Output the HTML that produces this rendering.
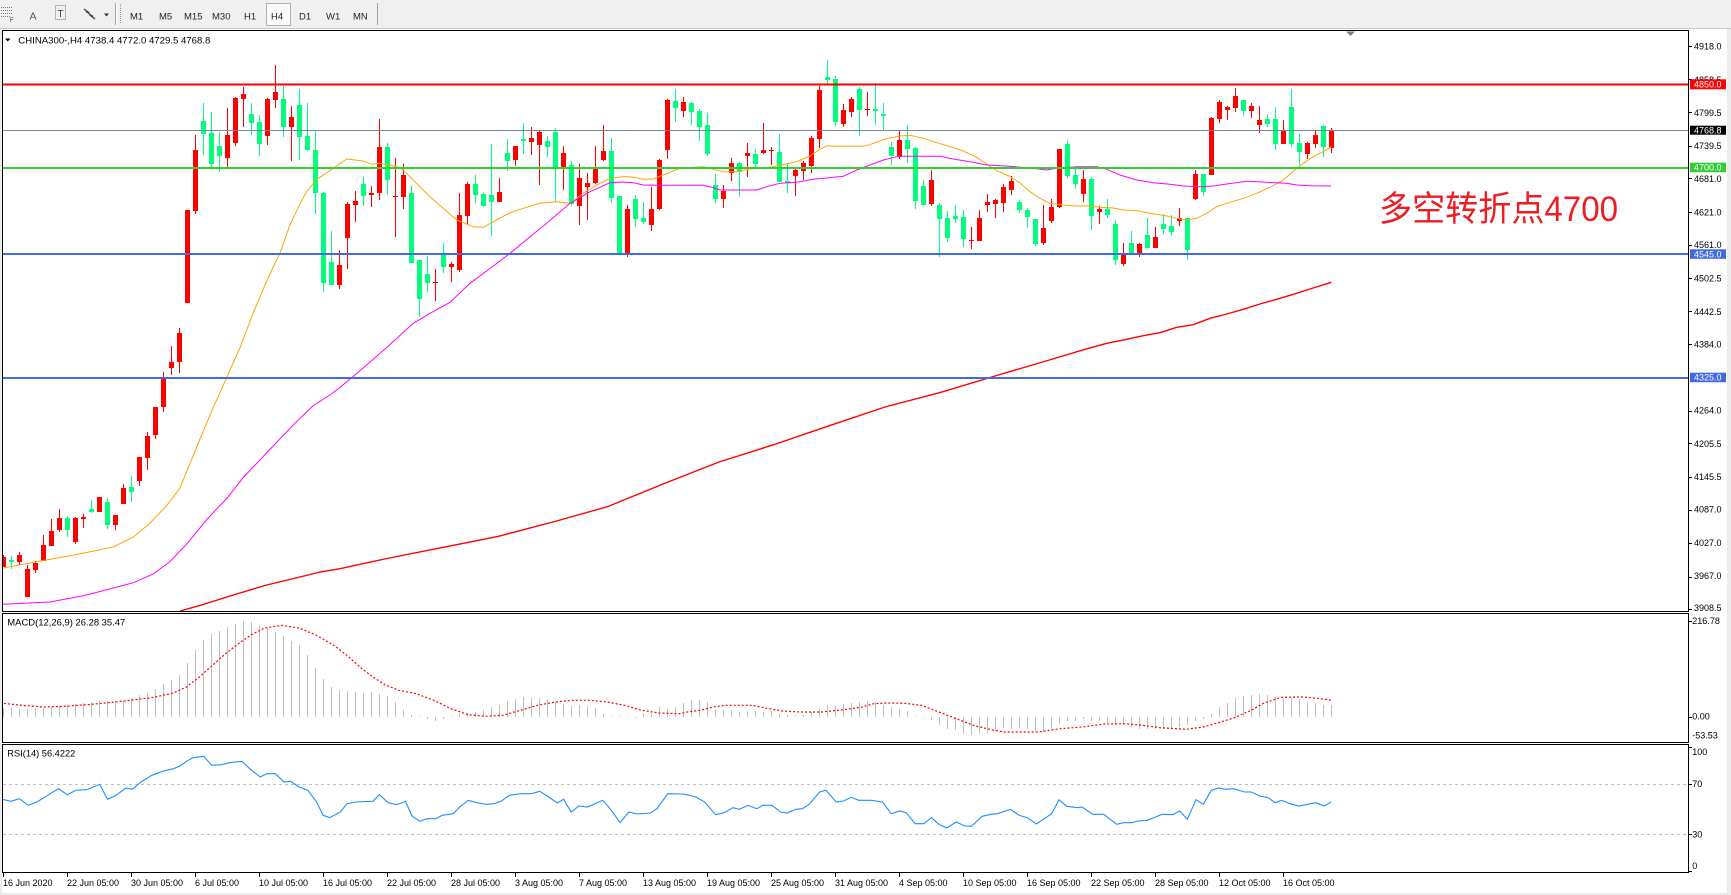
<!DOCTYPE html>
<html><head><meta charset="utf-8"><style>html,body{margin:0;padding:0;background:#fff;overflow:hidden}svg{display:block}</style></head><body>
<svg xmlns="http://www.w3.org/2000/svg" width="1731" height="895" viewBox="0 0 1731 895" font-family="'Liberation Sans', Arial, sans-serif">
<defs>
<clipPath id="cm"><rect x="3" y="31" width="1685" height="580"/></clipPath>
<clipPath id="cd"><rect x="3" y="614" width="1685" height="128"/></clipPath>
<clipPath id="cr"><rect x="3" y="745" width="1685" height="127"/></clipPath>
</defs>
<rect width="1731" height="895" fill="#fff"/>
<!-- toolbar -->
<rect x="0" y="0" width="1731" height="29" fill="#f0f0f0"/>
<line x1="0" y1="28.5" x2="1731" y2="28.5" stroke="#c8c8c8"/>
<g stroke="#777" stroke-dasharray="1,1"><line x1="1" y1="7.5" x2="13" y2="7.5"/><line x1="1" y1="10.5" x2="13" y2="10.5"/><line x1="1" y1="13.5" x2="13" y2="13.5"/><line x1="1" y1="16.5" x2="10" y2="16.5"/></g>
<text x="10" y="22" font-size="6" fill="#333">F</text>
<text x="29.5" y="19.3" font-size="10.5" fill="#555">A</text>
<rect x="55.5" y="5.5" width="10" height="14" fill="none" stroke="#777" stroke-dasharray="1,1"/>
<text x="57.5" y="17" font-size="10" fill="#444">T</text>
<path d="M84 9l4 3l-2 0M95 19l-4 -3l2 0M86 11l7 6" stroke="#444" fill="none" stroke-width="1.4"/>
<path d="M104 13.5h5l-2.5 3z" fill="#333"/>
<line x1="115.5" y1="3" x2="115.5" y2="25" stroke="#a0a0a0"/><line x1="116.5" y1="3" x2="116.5" y2="25" stroke="#fff"/>
<line x1="120.5" y1="4" x2="120.5" y2="24" stroke="#999" stroke-dasharray="1,1"/>
<rect x="266.5" y="3.5" width="24" height="22" fill="#fafafa" stroke="#b0b0b0"/>
<g font-size="9.5" fill="#222">
<text x="130" y="19.3">M1</text><text x="159" y="19.3">M5</text><text x="184" y="19.3">M15</text><text x="212" y="19.3">M30</text><text x="244" y="19.3">H1</text><text x="271" y="19.3">H4</text><text x="299" y="19.3">D1</text><text x="326" y="19.3">W1</text><text x="353" y="19.3">MN</text>
</g>
<line x1="377.5" y1="3" x2="377.5" y2="25" stroke="#a0a0a0"/>
<!-- right and bottom gray bands -->
<rect x="1727" y="29" width="4" height="866" fill="#ececec"/>
<rect x="0" y="893" width="1731" height="2" fill="#ececec"/>
<rect x="0" y="29" width="2" height="866" fill="#ececec"/>

<!-- MAIN PANEL -->
<g clip-path="url(#cm)">
<path fill="none" stroke="#ff0000" stroke-width="1" d="M3.5 555V567M19.5 552V565M27.5 565V597M35.5 561V573M43.5 535V561M51.5 519V546M59.5 509V532M75.5 517V544M83.5 514V528M99.5 497V512M115.5 515V530M123.5 484V504M139.5 457V486M147.5 432V470M155.5 407V439M163.5 372V412M171.5 346V375M179.5 328V373M187.5 210V303M195.5 135V214M227.5 108V167M235.5 97V146M243.5 87V127M267.5 98V145M275.5 65V108M291.5 106V161M339.5 250V289M347.5 202V269M355.5 191V222M371.5 186V207M379.5 119V200M395.5 158V237M403.5 164V209M435.5 269V301M451.5 262V282M459.5 193V272M467.5 182V224M499.5 178V202M515.5 146V166M531.5 127V155M539.5 131V185M563.5 146V190M579.5 164V225M587.5 173V220M595.5 146V184M603.5 125V161M627.5 205V257M651.5 187V231M659.5 159V210M667.5 99V159M683.5 97V117M723.5 185V208M731.5 158V181M747.5 143V177M763.5 123V154M771.5 147V165M795.5 169V196M803.5 161V180M811.5 136V173M819.5 86V148M843.5 104V127M851.5 97V117M867.5 92V116M899.5 131V159M931.5 170V206M971.5 227V249M979.5 210V241M987.5 194V212M995.5 199V218M1003.5 184V212M1011.5 176V195M1043.5 205V245M1051.5 199V223M1059.5 149V208M1083.5 170V202M1099.5 206V224M1123.5 243V266M1139.5 243V257M1155.5 227V248M1179.5 208V226M1195.5 170V200M1211.5 117V175M1219.5 100V123M1227.5 106V120M1235.5 88V112M1251.5 103V118M1259.5 106V133M1283.5 120V144M1307.5 142V159M1315.5 131V148M1331.5 128V153"/>
<path fill="#ff0000" d="M1 557h5v10h-5zM17 555h5v7h-5zM25 569h5v28h-5zM33 563h5v7h-5zM41 545h5v16h-5zM49 531h5v15h-5zM57 518h5v12h-5zM73 518h5v24h-5zM81 517h5v2h-5zM97 497h5v15h-5zM113 515h5v10h-5zM121 488h5v16h-5zM137 457h5v24h-5zM145 436h5v22h-5zM153 407h5v28h-5zM161 377h5v30h-5zM169 362h5v6h-5zM177 333h5v29h-5zM185 210h5v93h-5zM193 150h5v61h-5zM225 135h5v23h-5zM233 98h5v45h-5zM241 94h5v5h-5zM265 99h5v37h-5zM273 92h5v8h-5zM289 117h5v10h-5zM337 265h5v20h-5zM345 204h5v34h-5zM353 201h5v4h-5zM369 193h5v2h-5zM377 147h5v46h-5zM393 196h5v1h-5zM401 175h5v22h-5zM433 282h5v1h-5zM449 264h5v3h-5zM457 215h5v55h-5zM465 184h5v32h-5zM497 192h5v10h-5zM513 146h5v14h-5zM529 138h5v4h-5zM537 132h5v13h-5zM561 153h5v14h-5zM577 178h5v28h-5zM585 183h5v4h-5zM593 169h5v14h-5zM601 151h5v9h-5zM625 209h5v44h-5zM649 209h5v16h-5zM657 160h5v49h-5zM665 100h5v50h-5zM681 102h5v9h-5zM721 191h5v8h-5zM729 163h5v10h-5zM745 153h5v3h-5zM761 150h5v3h-5zM769 150h5v1h-5zM793 170h5v6h-5zM801 163h5v8h-5zM809 138h5v28h-5zM817 90h5v49h-5zM841 110h5v14h-5zM849 99h5v13h-5zM865 109h5v1h-5zM897 140h5v16h-5zM929 180h5v24h-5zM969 240h5v1h-5zM977 218h5v23h-5zM985 202h5v3h-5zM993 200h5v4h-5zM1001 187h5v16h-5zM1009 181h5v9h-5zM1041 228h5v15h-5zM1049 207h5v14h-5zM1057 149h5v58h-5zM1081 179h5v15h-5zM1097 209h5v3h-5zM1121 254h5v10h-5zM1137 244h5v9h-5zM1153 237h5v11h-5zM1177 218h5v3h-5zM1193 174h5v25h-5zM1209 118h5v57h-5zM1217 102h5v17h-5zM1225 107h5v3h-5zM1233 96h5v12h-5zM1249 106h5v5h-5zM1257 120h5v5h-5zM1281 131h5v13h-5zM1305 143h5v11h-5zM1313 135h5v9h-5zM1329 130h5v18h-5z"/>
<path fill="none" stroke="#00ff7f" stroke-width="1" d="M11.5 556V569M67.5 516V537M91.5 500V513M107.5 498V529M131.5 476V502M203.5 103V155M211.5 112V167M219.5 132V172M251.5 103V135M259.5 115V156M283.5 86V137M299.5 89V160M307.5 103V151M315.5 130V214M323.5 192V292M331.5 231V285M363.5 177V206M387.5 143V195M411.5 186V263M419.5 260V317M427.5 256V292M443.5 243V273M475.5 175V203M483.5 192V207M491.5 144V236M507.5 139V171M523.5 123V154M547.5 136V157M555.5 128V202M571.5 161V206M611.5 138V203M619.5 196V253M635.5 195V227M643.5 202V224M675.5 89V122M691.5 102V125M699.5 109V141M707.5 113V156M715.5 174V203M739.5 162V197M755.5 149V167M779.5 134V182M787.5 163V193M827.5 60V84M835.5 76V126M859.5 87V136M875.5 83V125M883.5 103V130M891.5 142V165M907.5 125V163M915.5 147V209M923.5 180V205M939.5 203V257M947.5 211V242M955.5 205V223M963.5 210V247M1019.5 200V213M1027.5 208V228M1035.5 219V246M1067.5 140V178M1075.5 169V189M1091.5 177V230M1107.5 199V218M1115.5 220V265M1131.5 231V254M1147.5 218V248M1163.5 214V234M1171.5 215V236M1187.5 218V260M1203.5 174V196M1243.5 100V116M1267.5 114V127M1275.5 107V150M1291.5 89V147M1299.5 134V165M1323.5 125V157"/>
<path fill="#00ff7f" d="M9 560h5v2h-5zM65 518h5v12h-5zM89 509h5v3h-5zM105 502h5v23h-5zM129 487h5v5h-5zM201 121h5v13h-5zM209 133h5v31h-5zM217 146h5v10h-5zM249 114h5v9h-5zM257 122h5v22h-5zM281 99h5v28h-5zM297 105h5v32h-5zM305 136h5v14h-5zM313 150h5v43h-5zM321 193h5v90h-5zM329 262h5v23h-5zM361 184h5v12h-5zM385 147h5v33h-5zM409 193h5v70h-5zM417 260h5v39h-5zM425 274h5v9h-5zM441 254h5v13h-5zM473 184h5v11h-5zM481 194h5v12h-5zM489 195h5v7h-5zM505 153h5v8h-5zM521 139h5v2h-5zM545 141h5v6h-5zM553 132h5v36h-5zM569 165h5v39h-5zM609 151h5v47h-5zM617 196h5v57h-5zM633 199h5v20h-5zM641 218h5v4h-5zM673 101h5v7h-5zM689 103h5v9h-5zM697 111h5v16h-5zM705 125h5v29h-5zM713 185h5v14h-5zM737 163h5v9h-5zM753 154h5v10h-5zM777 152h5v30h-5zM785 181h5v2h-5zM825 77h5v3h-5zM833 79h5v43h-5zM857 89h5v21h-5zM873 109h5v2h-5zM881 114h5v2h-5zM889 147h5v9h-5zM905 140h5v9h-5zM913 148h5v53h-5zM921 186h5v19h-5zM937 205h5v14h-5zM945 218h5v20h-5zM953 216h5v3h-5zM961 217h5v22h-5zM1017 202h5v8h-5zM1025 210h5v7h-5zM1033 219h5v25h-5zM1065 144h5v32h-5zM1073 175h5v9h-5zM1089 179h5v37h-5zM1105 209h5v6h-5zM1113 224h5v36h-5zM1129 243h5v10h-5zM1145 235h5v13h-5zM1161 224h5v5h-5zM1169 226h5v6h-5zM1185 218h5v32h-5zM1201 174h5v18h-5zM1241 100h5v11h-5zM1265 119h5v5h-5zM1273 119h5v25h-5zM1289 107h5v37h-5zM1297 143h5v9h-5zM1321 126h5v21h-5z"/>
<!-- MA lines -->
<polyline fill="none" stroke="#ffa500" stroke-width="1" points="0,568.7 33.3,562.3 66.7,556.4 93.3,551.1 113.3,546.9 133.3,537.1 150,523.1 166.7,505.5 180,488 190,463.4 200,438.9 213.3,407.3 226.7,377.5 240,347.7 253.3,312.6 266.7,281 280,252.9 290,224.9 300,203.8 306.7,191.6 316.7,179.3 330,170.6 346.7,159 363.3,161 371.7,164.3 380,163.3 396.7,166.7 403.3,170 430,196.7 456.7,220 473.3,226.7 483.3,227.3 493.3,221.7 510,212.7 523.3,208.3 540,203.3 556.7,201.7 570,203.3 583.3,193.3 596.7,185 610,178.3 623.3,176.7 630,176.7 643.3,179.3 653.3,179 663.3,175 680,168.3 703.3,166.7 713.3,169.3 723.3,171.7 736.7,171.7 750,169 763.3,168.3 776.7,166 786.7,164 796.7,161.7 810,156 820,149.3 826.7,145.7 833.3,146.3 863.3,146.3 870,144.7 876.7,142 886.7,138.7 900,136 910,135.3 923.3,138.3 936.7,142.7 953.3,147.7 963.3,151 976.7,157.3 986.7,164 996.7,170.7 1010,176.5 1020,183 1030,191.7 1040,198.3 1050,203.3 1063.3,205 1076.7,206 1090,206 1100,207.3 1113.3,208 1123.3,210 1136.7,210.7 1150,213.3 1166.7,216 1176.7,218.3 1186.7,220 1196.7,218.3 1206.7,213.3 1216.7,206.7 1226.7,203.3 1243.3,198.3 1256.7,193.3 1270,187.3 1283.3,180 1296.7,168.3 1303.3,163.3 1313.3,156.7 1323.3,151.7 1331.3,146.7"/>
<polyline fill="none" stroke="#ff00ff" stroke-width="1" points="0,604.4 50,602 83.3,595.7 100,591.5 133.3,582.7 153.3,573.9 170,561.6 186.7,544.1 206.7,519.5 226.7,498.5 243.3,477.5 253.3,466.9 273.3,445.9 293.3,424.8 313.3,405.5 330,395 340,387.3 355,375 370,362 385,349 413.3,323.3 430,313.3 450,302.3 470,283.3 493.3,266 510,253.3 530,236.7 546.7,223.3 570,203.3 590,191.7 610,182.7 623.3,182 633.3,182.7 643.3,185 656.7,185.3 703.3,185.3 710,186.7 720,190 756.7,190 766.7,186.7 780,183.3 796.7,182.3 813.3,179.3 826.7,178 843.3,176.3 856.7,170 870,165 883.3,160 896.7,156.7 903.3,156.3 940,156.3 953.3,159 970,161.7 986.7,165 1010,166.3 1036.7,168.7 1046.7,170 1056.7,168.3 1076.7,166.7 1096.7,166.7 1106.7,169.3 1120,175 1136.7,180 1153.3,182.7 1170,184.3 1183.3,186 1200,186.7 1213.3,186 1226.7,184 1246.7,181.3 1266.7,182.3 1286.7,183.3 1296.7,185 1310,185.7 1331.3,186"/>
<polyline fill="none" stroke="#ff0000" stroke-width="1.4" points="180,611 200,605.4 233.3,595 266.7,585 300,577 320,572 340,568.7 387,558.5 442,547.6 498,536.4 553,522 608,506.5 663,484 719,462 774,444.6 829,425.8 885,407 940,392.6 995,376 1051,359.5 1085,349.3 1106.7,343.3 1126.7,339.3 1143.3,335.7 1160,332.7 1176.7,327.3 1193.3,324.7 1210,318.3 1226.7,314 1243.3,309.3 1260,304 1276.7,299.3 1293.3,294.3 1310,289 1331.3,282.3"/>
<!-- horizontal levels -->
<line x1="3" y1="84.5" x2="1688" y2="84.5" stroke="#ff0000" stroke-width="2"/>
<line x1="3" y1="130.5" x2="1688" y2="130.5" stroke="#778899" stroke-width="1"/>
<line x1="3" y1="168" x2="1688" y2="168" stroke="#32cd32" stroke-width="2"/>
<line x1="3" y1="254" x2="1688" y2="254" stroke="#4169e1" stroke-width="2"/>
<line x1="3" y1="378" x2="1688" y2="378" stroke="#4169e1" stroke-width="2"/>
<text x="1379" y="221" font-size="35" fill="#ee1d23" textLength="239" lengthAdjust="spacingAndGlyphs" font-family="'Liberation Sans', 'Noto Sans CJK SC', sans-serif">多空转折点4700</text>
</g>
<!-- title -->
<path d="M5 38.5h5.5l-2.75 3z" fill="#000"/>
<text x="18.3" y="43.3" font-size="9.5" fill="#000" textLength="192" lengthAdjust="spacingAndGlyphs">CHINA300-,H4  4738.4 4772.0 4729.5 4768.8</text>
<path d="M1346 31.5h9l-4.5 4.5z" fill="#808080"/>

<!-- MACD PANEL -->
<g clip-path="url(#cd)">
<path fill="none" stroke="#c0c0c0" stroke-width="1" d="M3.5 717V708M11.5 717V708M19.5 717V709M27.5 717V709M35.5 717V708M43.5 717V708M51.5 717V707M59.5 717V706M67.5 717V705M75.5 717V704M83.5 717V703M91.5 717V702M99.5 717V701M107.5 717V701M115.5 717V701M123.5 717V701M131.5 717V698M139.5 717V695M147.5 717V693M155.5 717V689M163.5 717V684M171.5 717V680M179.5 717V675M187.5 717V663M195.5 717V650M203.5 717V640M211.5 717V634M219.5 717V631M227.5 717V627M235.5 717V624M243.5 717V621M251.5 717V622M259.5 717V626M267.5 717V628M275.5 717V632M283.5 717V636M291.5 717V641M299.5 717V645M307.5 717V655M315.5 717V668M323.5 717V679M331.5 717V687M339.5 717V690M347.5 717V691M355.5 717V692M363.5 717V693M371.5 717V692M379.5 717V694M387.5 717V696M395.5 717V702M403.5 717V710M411.5 717V715M419.5 717V716M427.5 717V719M435.5 717V721M443.5 717V719M451.5 717V716M459.5 717V714M467.5 717V713M475.5 717V712M483.5 717V710M491.5 717V707M499.5 717V705M507.5 717V701M515.5 717V699M523.5 717V697M531.5 717V698M539.5 717V698M547.5 717V699M555.5 717V702M563.5 717V704M571.5 717V706M579.5 717V705M587.5 717V706M595.5 717V708M603.5 717V714M611.5 717V716M619.5 717V716M627.5 717V718M635.5 717V718M643.5 717V713M651.5 717V713M659.5 717V707M667.5 717V709M675.5 717V707M683.5 717V703M691.5 717V700M699.5 717V700M707.5 717V702M715.5 717V709M723.5 717V710M731.5 717V710M739.5 717V712M747.5 717V711M755.5 717V711M763.5 717V712M771.5 717V711M779.5 717V714M787.5 717V715M795.5 717V716M803.5 717V715M811.5 717V712M819.5 717V709M827.5 717V705M835.5 717V706M843.5 717V704M851.5 717V703M859.5 717V702M867.5 717V701M875.5 717V702M883.5 717V705M891.5 717V707M899.5 717V709M907.5 717V711M915.5 717V716M923.5 717V718M931.5 717V720M939.5 717V725M947.5 717V729M955.5 717V730M963.5 717V734M971.5 717V735M979.5 717V734M987.5 717V733M995.5 717V731M1003.5 717V728M1011.5 717V729M1019.5 717V728M1027.5 717V729M1035.5 717V731M1043.5 717V732M1051.5 717V729M1059.5 717V724M1067.5 717V721M1075.5 717V721M1083.5 717V719M1091.5 717V721M1099.5 717V721M1107.5 717V723M1115.5 717V725M1123.5 717V725M1131.5 717V727M1139.5 717V729M1147.5 717V729M1155.5 717V729M1163.5 717V729M1171.5 717V729M1179.5 717V727M1187.5 717V725M1195.5 717V721M1203.5 717V719M1211.5 717V714M1219.5 717V707M1227.5 717V703M1235.5 717V698M1243.5 717V696M1251.5 717V695M1259.5 717V694M1267.5 717V695M1275.5 717V697M1283.5 717V698M1291.5 717V698M1299.5 717V699M1307.5 717V702M1315.5 717V703M1323.5 717V705M1331.5 717V705"/>
<polyline fill="none" stroke="#ff0000" stroke-width="1.2" stroke-dasharray="2,2" points="0,703 21.7,705.3 43.4,707 65,706.3 86.7,704.7 108.4,702.7 130.1,700.3 151.8,697.7 173.5,693 186.5,687 199.5,677 212.5,665.3 225.5,653.7 238.5,643.7 251.5,634.7 264.5,628 281.9,625.3 299.2,628 316.6,635.3 333.9,645.3 346.9,655.3 359.9,667 372.9,677 386,685.3 399,690.3 416.3,693.7 433.7,700.3 451,708.7 468.3,714.7 485.7,716.3 503,715.3 520.4,710.3 537.7,705.3 555.1,702 572.4,700.3 589.8,700.3 607.1,702 624.5,705.3 641.8,710.3 659.2,713 680,713.7 687.3,712 700.4,710.3 713.4,707 726.4,705.3 752.4,705.3 765.4,708 782.7,711 800.1,712 821.8,712 843.5,709.7 860.8,707.3 873.8,703.7 886.8,703 904.2,703.3 921.5,705.3 938.9,712 956.2,718.7 973.6,725.3 990.9,729.7 1003.9,732 1038.6,732 1060.3,728.7 1082,727 1103.7,724 1125.3,723.7 1142.7,725.3 1160,727.7 1186,729.3 1203.4,727 1220.7,722 1233.7,718 1251.1,710.3 1264.1,703 1281.4,697.3 1303.1,697 1320.5,698.7 1331.3,700.3"/>
</g>
<text x="7.3" y="625.5" font-size="9.5" fill="#000" textLength="118" lengthAdjust="spacingAndGlyphs">MACD(12,26,9) 26.28 35.47</text>

<!-- RSI PANEL -->
<g clip-path="url(#cr)">
<line x1="3" y1="784.5" x2="1688" y2="784.5" stroke="#c0c0c0" stroke-dasharray="3,3"/>
<line x1="3" y1="834.5" x2="1688" y2="834.5" stroke="#c0c0c0" stroke-dasharray="3,3"/>
<polyline fill="none" stroke="#1e90ff" stroke-width="1.1" points="0,798.7 10.8,801.3 19.5,798.7 28.2,805.3 36.9,802 47.7,795.3 58.5,788.7 67.2,794.7 75.9,790.3 86.7,789.7 99.7,784.3 107.5,799.3 116.2,795.3 125.8,788 132.3,789.3 140.9,782 151.8,775.3 162.6,771.3 173.5,768.7 180,766 186.5,761.3 193,757.7 203.8,756.3 211.6,765.3 221.2,764.7 229.8,762.7 242,761.3 251.5,770.3 260.2,777 266.7,773.7 275.4,773.7 284,782 290.5,781.3 299.2,787 307.9,790.3 316.6,802 323.1,815.3 329.6,817.7 340.4,812 346.9,803.7 355.6,802 372.9,801.3 379.4,794.7 388.1,802.7 396.8,804.7 405.5,801.3 412,816 419.8,821.3 427.1,818.7 435.8,818.7 442.3,815.3 453.2,813.7 459.7,807 468.3,800.3 477,802.7 485.7,804.3 494.4,803.7 500.9,801.3 509.5,795.3 520.4,793.7 531.2,793.7 539.9,791.3 548.6,797 557.2,803 563.7,799.3 571.1,812 578.9,806 587.6,807 602.8,800.3 611.4,810.3 620.1,822.7 628.8,812 637.5,814 650.5,813 657,808.7 667.8,793.7 680,794 685.2,794.3 696,797 704.7,802 715.5,814.7 724.2,812.7 732.9,807.7 739.4,809.3 748.1,805.3 756.7,808.7 763.2,805.3 771.9,805.3 780.6,812 787.1,813 795.8,809.3 802.3,808.7 808.8,804.7 819.6,792 826.1,790.3 836.1,802 843.5,801 851.3,797.3 858.6,800.3 871.6,800.3 882.5,802 891.2,813.7 899.8,811 906.3,812.7 915,823.7 923.7,823.7 931.5,817.7 938.9,824.3 946.7,828 956.2,822 964.9,826 971.4,826.3 982.2,816.3 990.9,814.3 997.4,813.7 1010.4,809.3 1019.1,815.3 1027.8,818 1036.4,824 1051.6,813.7 1059,799.7 1066.8,806.3 1077.6,807.7 1082,807 1092.8,814.3 1103.7,814.3 1116.7,824.3 1123.2,822.7 1131.8,822.7 1138.3,821 1147,820.3 1151.4,818.7 1162.2,814.3 1173,814.7 1179.5,811 1187.3,819.3 1196,799.7 1203.4,804.3 1211.2,790.3 1218.6,788 1225.1,789.3 1233.7,788.7 1244.6,792 1251.1,792 1259.8,796 1268.4,797.7 1274.9,802.7 1281.4,800.3 1290.1,803.7 1298.8,806 1307.5,804.3 1316.1,802.7 1324,806 1331.3,802"/>
</g>
<text x="7.3" y="756.5" font-size="9.5" fill="#000" textLength="68" lengthAdjust="spacingAndGlyphs">RSI(14) 56.4222</text>

<!-- panel frames -->
<g fill="none" stroke="#000" stroke-width="1">
<rect x="2.5" y="30.5" width="1686" height="581"/>
<rect x="2.5" y="613.5" width="1686" height="129"/>
<rect x="2.5" y="744.5" width="1686" height="128"/>
</g>

<!-- price axis ticks -->
<path stroke="#000" stroke-width="1" d="M1688.5 46.5h3.5M1688.5 79.5h3.5M1688.5 112.5h3.5M1688.5 146.5h3.5M1688.5 178.5h3.5M1688.5 212.5h3.5M1688.5 245.5h3.5M1688.5 278.5h3.5M1688.5 311.5h3.5M1688.5 344.5h3.5M1688.5 411.5h3.5M1688.5 443.5h3.5M1688.5 477.5h3.5M1688.5 510.5h3.5M1688.5 543.5h3.5M1688.5 577.5h3.5M1688.5 609.5h3.5M1688.5 621.5h3.5M1688.5 717.5h3.5M1688.5 747.5h3.5M1688.5 784.5h3.5M1688.5 834.5h3.5M1688.5 871.5h3.5"/>
<g font-size="9" fill="#000">
<text x="1694" y="49.5">4918.0</text>
<text x="1694" y="83">4858.5</text>
<text x="1694" y="116">4799.5</text>
<text x="1694" y="149.2">4739.5</text>
<text x="1694" y="182.2">4681.0</text>
<text x="1694" y="215.5">4621.0</text>
<text x="1694" y="248.2">4561.0</text>
<text x="1694" y="281.5">4502.5</text>
<text x="1694" y="315">4442.5</text>
<text x="1694" y="347.5">4384.0</text>
<text x="1694" y="413.7">4264.0</text>
<text x="1694" y="447">4205.5</text>
<text x="1694" y="480">4145.5</text>
<text x="1694" y="512.5">4087.0</text>
<text x="1694" y="546">4027.0</text>
<text x="1694" y="579.2">3967.0</text>
<text x="1694" y="611">3908.5</text>
<text x="1692.3" y="624">216.78</text>
<text x="1692.3" y="719.5">0.00</text>
<text x="1692.3" y="738.5">-53.53</text>
<text x="1692.3" y="755">100</text>
<text x="1692.3" y="787.2">70</text>
<text x="1692.3" y="837.5">30</text>
<text x="1692.3" y="869.2">0</text>
</g>
<!-- price tags -->
<rect x="1690" y="79.3" width="36" height="10" fill="#ff0000"/>
<rect x="1690" y="125.7" width="36" height="9" fill="#000"/>
<rect x="1690" y="162.7" width="36" height="9.5" fill="#32cd32"/>
<rect x="1690" y="249.3" width="36" height="9.5" fill="#4169e1"/>
<rect x="1690" y="372.7" width="36" height="9.5" fill="#4169e1"/>
<g font-size="9" fill="#fff">
<text x="1694" y="87.6">4850.0</text>
<text x="1694" y="133.4">4768.8</text>
<text x="1694" y="170.7">4700.0</text>
<text x="1694" y="257.3">4545.0</text>
<text x="1694" y="380.7">4325.0</text>
</g>

<!-- time axis -->
<path stroke="#000" stroke-width="1" d="M3.5 873v4M67.5 873v4M131.5 873v4M195.5 873v4M259.5 873v4M323.5 873v4M387.5 873v4M451.5 873v4M515.5 873v4M579.5 873v4M643.5 873v4M707.5 873v4M771.5 873v4M835.5 873v4M899.5 873v4M963.5 873v4M1027.5 873v4M1091.5 873v4M1155.5 873v4M1219.5 873v4M1283.5 873v4"/>
<g font-size="9" fill="#000">
<text x="3" y="886">16 Jun 2020</text>
<text x="67" y="886">22 Jun 05:00</text>
<text x="131" y="886">30 Jun 05:00</text>
<text x="195" y="886">6 Jul 05:00</text>
<text x="259" y="886">10 Jul 05:00</text>
<text x="323" y="886">16 Jul 05:00</text>
<text x="387" y="886">22 Jul 05:00</text>
<text x="451" y="886">28 Jul 05:00</text>
<text x="515" y="886">3 Aug 05:00</text>
<text x="579" y="886">7 Aug 05:00</text>
<text x="643" y="886">13 Aug 05:00</text>
<text x="707" y="886">19 Aug 05:00</text>
<text x="771" y="886">25 Aug 05:00</text>
<text x="835" y="886">31 Aug 05:00</text>
<text x="899" y="886">4 Sep 05:00</text>
<text x="963" y="886">10 Sep 05:00</text>
<text x="1027" y="886">16 Sep 05:00</text>
<text x="1091" y="886">22 Sep 05:00</text>
<text x="1155" y="886">28 Sep 05:00</text>
<text x="1219" y="886">12 Oct 05:00</text>
<text x="1283" y="886">16 Oct 05:00</text>
</g>
</svg>
</body></html>
